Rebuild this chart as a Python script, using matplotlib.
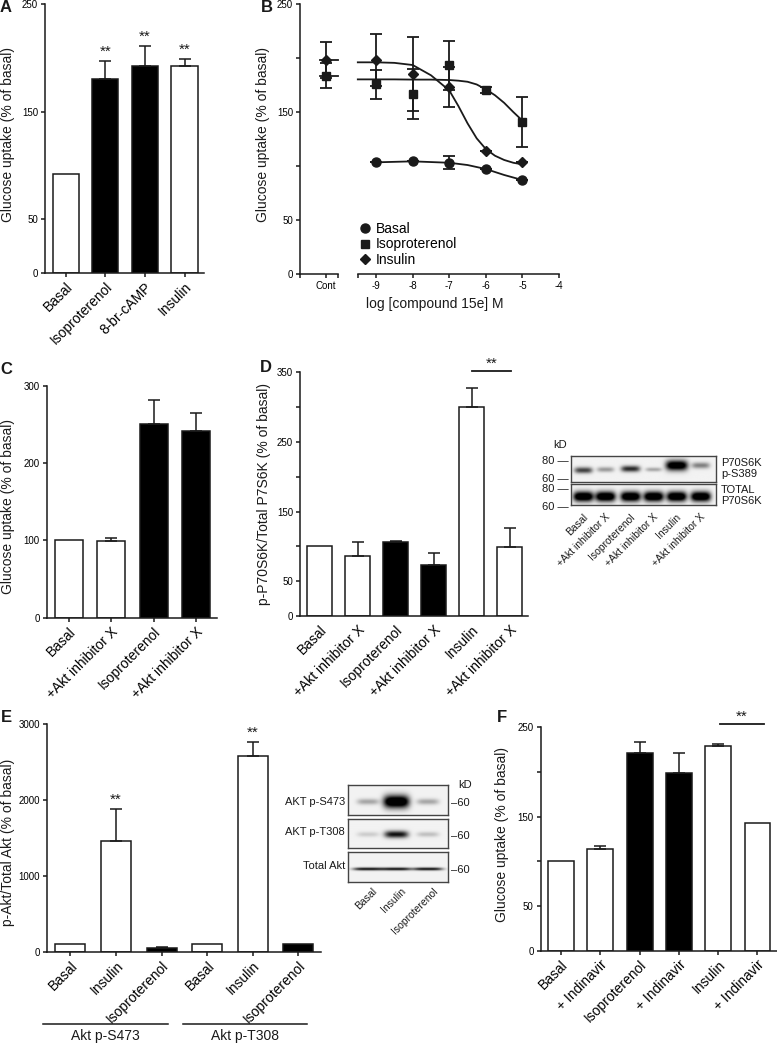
import numpy as np
import matplotlib
matplotlib.use('Agg')
import matplotlib.pyplot as plt
from matplotlib.lines import Line2D

plt.rcParams['font.family'] = ['Liberation Sans', 'DejaVu Sans']

W, H = 777, 1043
INK = '#1a1a1a'

# panel A
a_labels = ['Basal', 'Isoproterenol', '8-br-cAMP', 'Insulin']
a_values = [92, 180, 192, 192]
a_err = [0, 17, 19, 7]
a_fill = ['white', 'black', 'black', 'white']
a_stars = [1, 2, 3]

# panel B (dose response)
b_dose = [-9, -8, -7, -6, -5]
b_dose_labels = ['-9', '-8', '-7', '-6', '-5', '-4']
b_basal = [103.4, 104.9, 102.8, 96.9, 87.0]
b_basal_err = [0, 0, 6, 0, 0]
b_iso = [175.9, 166.7, 193.2, 170.4, 141.0]
b_iso_err = [13.4, 23.5, 22.8, 3, 23.1]
b_ins = [198.1, 185.2, 172.8, 113.9, 103.4]
b_ins_err = [24.4, 34, 18.5, 0, 0]
b_cont_iso, b_cont_iso_err = 183.6, 11.6
b_cont_ins, b_cont_ins_err = 198.1, 17
# fitted curves
b_fit_x = [-9.5, -9, -8.5, -8, -7.5, -7, -6.75, -6.5, -6.25, -6, -5.75, -5.5, -5.25, -5]
b_fit_ins = [196, 196, 195.5, 193.5, 184, 170, 155.5, 139.5, 125.6, 115.7, 109.5, 105.6, 103, 101.5]
b_fit_iso = [180.2, 180.2, 180.2, 180, 180, 179.6, 179, 178, 175.5, 171, 165.5, 158.5, 150, 142]
b_fit_basal_x = [-9, -8, -7, -6.5, -6, -5.5, -5]
b_fit_basal = [103.4, 104.3, 103, 100.9, 97.2, 91.7, 87]

# panel C
c_labels = ['Basal', '+Akt inhibitor X', 'Isoproterenol', '+Akt inhibitor X']
c_values = [100, 98.7, 251.2, 241.3]
c_err = [0, 4.8, 31.1, 23.3]
c_fill = ['white', 'white', 'black', 'black']

# panel D
d_labels = ['Basal', '+Akt inhibitor X', 'Isoproterenol', '+Akt inhibitor X',
            'Insulin', '+Akt inhibitor X']
d_values = [100, 86.8, 106.5, 73.4, 300.2, 99.8]
d_err = [0, 19.7, 1.9, 16.8, 27.4, 26.8]
d_fill = ['white', 'white', 'black', 'black', 'white', 'white']
d_phospho = [0.7, 0.35, 0.8, 0.3, 1.2, 0.45]
d_total = [1.3, 1.3, 1.3, 1.3, 1.3, 1.3]

# panel E
e_labels = ['Basal', 'Insulin', 'Isoproterenol', 'Basal', 'Insulin', 'Isoproterenol']
e_values = [105, 1456, 44, 105, 2582, 105]
e_err = [0, 423, 13, 0, 181, 0]
e_fill = ['white', 'white', 'black', 'white', 'white', 'black']
e_groups = ['Akt p-S473', 'Akt p-T308']
e_stars = [1, 4]
e_s473 = [0.3, 1.3, 0.3]
e_t308 = [0.15, 0.9, 0.2]
e_total = [0.9, 0.9, 0.9]
e_lanes = ['Basal', 'Insulin', 'Isoproterenol']

# panel F
f_labels = ['Basal', '+ Indinavir', 'Isoproterenol', '+ Indinavir', 'Insulin', '+ Indinavir']
f_values = [100.4, 113.8, 221.6, 198.5, 228.7, 142.9]
f_err = [0, 3.4, 12.4, 22.4, 2.6, 0]
f_fill = ['white', 'white', 'black', 'black', 'white', 'white']

fig = plt.figure(figsize=(W / 100, H / 100), dpi=100)


def px(x, y):
    return x / W, 1 - y / H


def add_ax(l, t, r, b):
    return fig.add_axes([l / W, 1 - b / H, (r - l) / W, (b - t) / H])


def style(ax):
    for s in ['top', 'right']:
        ax.spines[s].set_visible(False)
    for s in ['left', 'bottom']:
        ax.spines[s].set_linewidth(1.1)
        ax.spines[s].set_color(INK)
    ax.tick_params(direction='out', length=3, width=1.1, color=INK, labelsize=7, pad=2)


def bar_panel(ax, values, err, fill, labels, ymax, yticks, ylabels, xticks=True):
    x = np.arange(len(values))
    ax.bar(x, values, width=0.66, color=fill, edgecolor=INK, linewidth=1.1, zorder=2)
    e = np.array(err, float)
    v = np.array(values, float)
    m = e > 0
    ax.errorbar(x[m], v[m], yerr=[np.zeros(m.sum()), e[m]], fmt='none', ecolor=INK,
                elinewidth=1.1, capsize=4, capthick=1.1, zorder=3)
    style(ax)
    ax.set_xlim(-0.52, len(values) - 0.51)
    ax.set_ylim(0, ymax)
    ax.set_yticks(yticks)
    ax.set_yticklabels(ylabels)
    ax.set_xticks(x)
    ax.set_xticklabels(labels, rotation=45, ha='right', va='top', rotation_mode='anchor', fontsize=10)
    if not xticks:
        ax.tick_params(axis='x', length=0, pad=5)


def stars(ax, idx, values, err):
    for i in idx:
        ax.annotate('**', (i, values[i] + err[i]), xytext=(0, 1.5), textcoords='offset points',
                    ha='center', va='bottom', fontsize=11, color=INK)


def sig_line(ax, x0, x1, y):
    ax.plot([x0, x1], [y, y], color=INK, lw=1.3, clip_on=False)
    ax.annotate('**', ((x0 + x1) / 2, y), xytext=(0, 0), textcoords='offset points',
                ha='center', va='bottom', fontsize=11, color=INK, annotation_clip=False)


def blot_box(l, t, r, b, lane_x, band_y, level, bw, bh):
    ax = add_ax(l, t, r, b)
    w, h = r - l, b - t
    U, V = np.meshgrid(np.linspace(0, w, int(w * 3)), np.linspace(0, h, int(h * 3)))
    img = np.full(U.shape, 0.05)
    for cx, cy, a, sw, sh in zip(lane_x, band_y, level, bw, bh):
        img += a * np.exp(-((U - cx) / (sw / 2)) ** 4 - ((V - cy) / (sh / 2)) ** 2)
    ax.imshow(1 - np.clip(img, 0, 1), cmap='gray', vmin=0, vmax=1, extent=[0, w, h, 0],
              aspect='auto', interpolation='bilinear')
    ax.set_xticks([])
    ax.set_yticks([])
    for s in ax.spines.values():
        s.set_color('#444')
        s.set_linewidth(1)
    return ax


def ftext(x, y, s, **kw):
    kw.setdefault('fontsize', 8)
    kw.setdefault('color', INK)
    fig.text(*px(x, y), s, **kw)


# ---------- A
axA = add_ax(45, 4, 204, 273)
bar_panel(axA, a_values, a_err, a_fill, a_labels, 250, [0, 50, 150, 250], ['0', '50', '150', '250'])
stars(axA, a_stars, a_values, a_err)

# ---------- B
axB = add_ax(300, 4, 559, 274)
style(axB)
axB.spines['bottom'].set_visible(False)
axB.set_xlim(-11.08, -4)
axB.set_ylim(0, 250)
axB.set_yticks([0, 50, 100, 150, 200, 250])
axB.set_yticklabels(['0', '50', '', '150', '', '250'])
axB.set_xticks([-10.37] + b_dose + [-4])
axB.set_xticklabels(['Cont'] + b_dose_labels)
axB.set_xticks([-11.08, -10.04, -9.5], minor=True)
axB.tick_params(axis='x', which='minor', length=3, width=1.1, color=INK, direction='out')
xt = axB.get_xaxis_transform()
axB.plot([-11.08, -10.04], [0, 0], transform=xt, color=INK, lw=1.1, clip_on=False)
axB.plot([-9.5, -4], [0, 0], transform=xt, color=INK, lw=1.1, clip_on=False)
axB.plot([-10.53, -10.04], [b_cont_ins] * 2, color=INK, lw=1.3)
axB.plot([-10.53, -10.04], [b_cont_iso] * 2, color=INK, lw=1.3)
axB.plot(b_fit_x, b_fit_ins, color=INK, lw=1.3)
axB.plot(b_fit_x, b_fit_iso, color=INK, lw=1.3)
axB.plot(b_fit_basal_x, b_fit_basal, color=INK, lw=1.3)
ekw = dict(color=INK, elinewidth=1.3, capsize=4, capthick=1.3, linestyle='none')
axB.errorbar(b_dose, b_basal, yerr=b_basal_err, marker='o', ms=6.5, **ekw)
axB.errorbar(b_dose + [-10.37], b_iso + [b_cont_iso], yerr=b_iso_err + [b_cont_iso_err],
             marker='s', ms=6, **ekw)
axB.errorbar(b_dose + [-10.37], b_ins + [b_cont_ins], yerr=b_ins_err + [b_cont_ins_err],
             marker='D', ms=5, **ekw)
handles = [Line2D([], [], color=INK, marker=m, ms=s, ls='none') for m, s in
           [('o', 6.5), ('s', 6), ('D', 5)]]
axB.legend(handles, ['Basal', 'Isoproterenol', 'Insulin'], loc='upper left',
           bbox_to_anchor=((359 - 300) / 259, (274 - 222) / 270), frameon=False, fontsize=10,
           handlelength=0.8, handletextpad=0.4, labelspacing=0.1, borderaxespad=0, borderpad=0)
ftext(435, 304, 'log [compound 15e] M', fontsize=10, ha='center', va='center')

# ---------- C
axC = add_ax(46.7, 386, 216.7, 617.7)
bar_panel(axC, c_values, c_err, c_fill, c_labels, 300, [0, 100, 200, 300], ['0', '100', '200', '300'])

# ---------- D
axD = add_ax(300, 372.3, 528.3, 616)
bar_panel(axD, d_values, d_err, d_fill, d_labels, 350, list(range(0, 351, 50)),
          ['0', '50', '', '150', '', '250', '', '350'], xticks=False)
sig_line(axD, 4.0, 5.03, 351.5)

lanes_d = [12.3, 34.3, 59.3, 82.3, 105.3, 129.3]
blot_box(570.7, 456, 716, 482, lanes_d, [14.7, 14, 13.3, 14, 10, 10], d_phospho,
         [18, 17, 19, 16, 22, 18], [6, 5, 6, 4, 10, 6])
blot_box(570.7, 484.3, 716, 505, lanes_d, [12.4] * 6, d_total, [20] * 6, [10] * 6)
ftext(560, 445, 'kD', ha='center', va='center')
for lab, y in zip(['80 —', '60 —', '80 —', '60 —'], [461, 479, 489.3, 507.3]):
    ftext(569, y, lab, ha='right', va='center')
for lab, y in zip(['P70S6K', 'p-S389', 'TOTAL', 'P70S6K'], [462.7, 474, 490, 501]):
    ftext(721, y, lab, ha='left', va='center')
for lab, lx in zip(d_labels, lanes_d):
    fig.text(*px(570.7 + lx, 512), lab, fontsize=7.5, color=INK, rotation=45,
             ha='right', va='top', rotation_mode='anchor')

# ---------- E
axE = add_ax(46.7, 724.3, 320.7, 951.7)
bar_panel(axE, e_values, e_err, e_fill, e_labels, 3000, [0, 1000, 2000, 3000],
          ['0', '1000', '2000', '3000'])
stars(axE, e_stars, e_values, e_err)
et = axE.get_xaxis_transform()
for (x0, x1), g in zip([(-0.6, 2.13), (2.46, 5.2)], e_groups):
    axE.plot([x0, x1], [-0.317, -0.317], transform=et, color=INK, lw=1.1, clip_on=False)
    axE.text((x0 + x1) / 2, -0.37, g, transform=et, ha='center', va='center', fontsize=10, color=INK)

lanes_e = [20, 48.4, 80]
blot_box(348.3, 785, 448.3, 815, lanes_e, [16.7] * 3, e_s473, [22, 26, 22], [6, 13, 6])
blot_box(348.3, 819, 448.3, 848.3, lanes_e, [16] * 3, e_t308, [22, 24, 22], [5, 7, 5])
blot_box(348.3, 852.3, 448.3, 882.3, lanes_e, [17] * 3, e_total, [30, 30, 30], [3, 3, 3])
for lab, y in zip(['AKT p-S473', 'AKT p-T308', 'Total Akt'], [802.3, 832.3, 866]):
    ftext(345, y, lab, ha='right', va='center')
ftext(465, 785, 'kD', ha='center', va='center')
for y in [802.7, 836, 870]:
    ftext(451, y, '–60', ha='left', va='center')
for lab, lx in zip(e_lanes, lanes_e):
    fig.text(*px(348.3 + lx + 4, 886), lab, fontsize=7.5, color=INK, rotation=45,
             ha='right', va='top', rotation_mode='anchor')

# ---------- F
axF = add_ax(540.7, 727.3, 776.7, 950.7)
bar_panel(axF, f_values, f_err, f_fill, f_labels, 250, [0, 50, 100, 150, 200, 250],
          ['0', '50', '', '150', '', '250'])
sig_line(axF, 4.04, 5.17, 254)

# axis titles and panel letters
for x, y, s in [(8, 135, 'Glucose uptake (% of basal)'), (263, 135, 'Glucose uptake (% of basal)'),
                (8, 506, 'Glucose uptake (% of basal)'), (264, 494, 'p-P70S6K/Total P7S6K (% of basal)'),
                (8, 842, 'p-Akt/Total Akt (% of basal)'), (502, 834, 'Glucose uptake (% of basal)')]:
    ftext(x, y, s, fontsize=10, rotation=90, ha='center', va='center')
for x, y, s in [(6, 8, 'A'), (267, 8, 'B'), (6, 369, 'C'), (266, 368, 'D'), (6, 718, 'E'), (502, 718, 'F')]:
    ftext(x, y, s, fontsize=12, fontweight='bold', ha='center', va='center')

fig.savefig('out.png', dpi=100)
